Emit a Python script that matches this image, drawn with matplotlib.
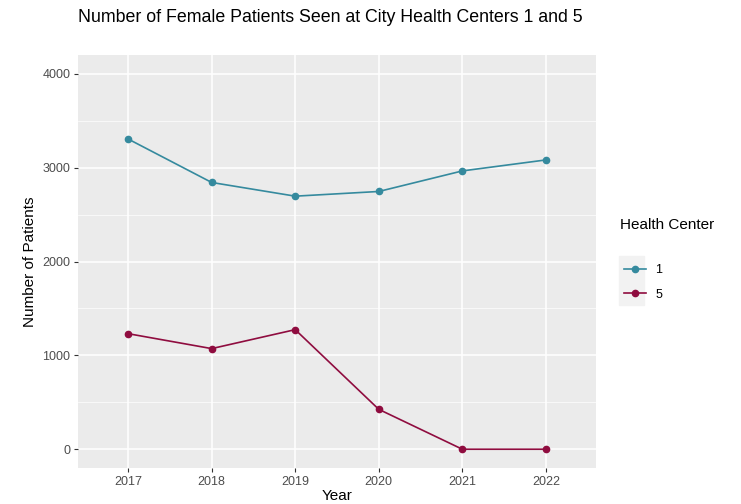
import matplotlib.pyplot as plt
from matplotlib.patches import Rectangle
from matplotlib.ticker import MultipleLocator

plt.rcParams['font.family'] = ['Liberation Sans', 'DejaVu Sans']

years = ['2017', '2018', '2019', '2020', '2021', '2022']
center_1 = [3305, 2842, 2696, 2746, 2965, 3082]
center_5 = [1231, 1072, 1274, 425, 0, 0]
centers = ['1', '5']
colors = ['#358a9e', '#8f0c3f']

fig = plt.figure(figsize=(7.41, 5.04), dpi=100)
ax = fig.add_axes([78 / 741, 1 - 468 / 504, (596 - 78) / 741, (468 - 55) / 504])
ax.set_facecolor('#ebebeb')

x = list(range(len(years)))
handles = []
for vals, name, col in zip([center_1, center_5], centers, colors):
    h, = ax.plot(x, vals, color=col, lw=1.2, marker='o', ms=4.5, label=name)
    handles.append(h)

ax.set_xlim(-0.6, len(years) - 0.4)
ax.set_ylim(-200, 4200)
ax.set_xticks(x)
ax.set_xticklabels(years)
ax.yaxis.set_major_locator(MultipleLocator(1000))
ax.yaxis.set_minor_locator(MultipleLocator(500))
ax.grid(which='major', color='white', lw=1.1)
ax.grid(which='minor', axis='y', color='white', lw=0.5)
ax.set_axisbelow(True)
for s in ax.spines.values():
    s.set_visible(False)
ax.tick_params(which='major', length=3, width=0.8, color='#333333', labelsize=9, labelcolor='#4d4d4d', pad=2.5)
ax.tick_params(which='minor', length=0)

ax.set_xlabel('Year', fontsize=11, labelpad=1)
ax.set_ylabel('Number of Patients', fontsize=11, labelpad=4)
fig.text(78 / 741, 1 - 18 / 504, 'Number of Female Patients Seen at City Health Centers 1 and 5',
         fontsize=12.75, ha='left', va='center')

# legend
fig.patches.append(Rectangle((619 / 741, 1 - 305 / 504), 25 / 741, 49 / 504,
                             transform=fig.transFigure, color='#f2f2f2', zorder=0))
fig.text(620 / 741, 1 - 225 / 504, 'Health Center', fontsize=11, ha='left', va='center')
leg = fig.legend(handles=handles, labels=centers, loc='upper left',
                 bbox_to_anchor=(613 / 741, 1 - 253 / 504), frameon=False,
                 fontsize=9, handlelength=1.7, labelspacing=1.0, handletextpad=0.8)

fig.savefig('out.png', dpi=100)
